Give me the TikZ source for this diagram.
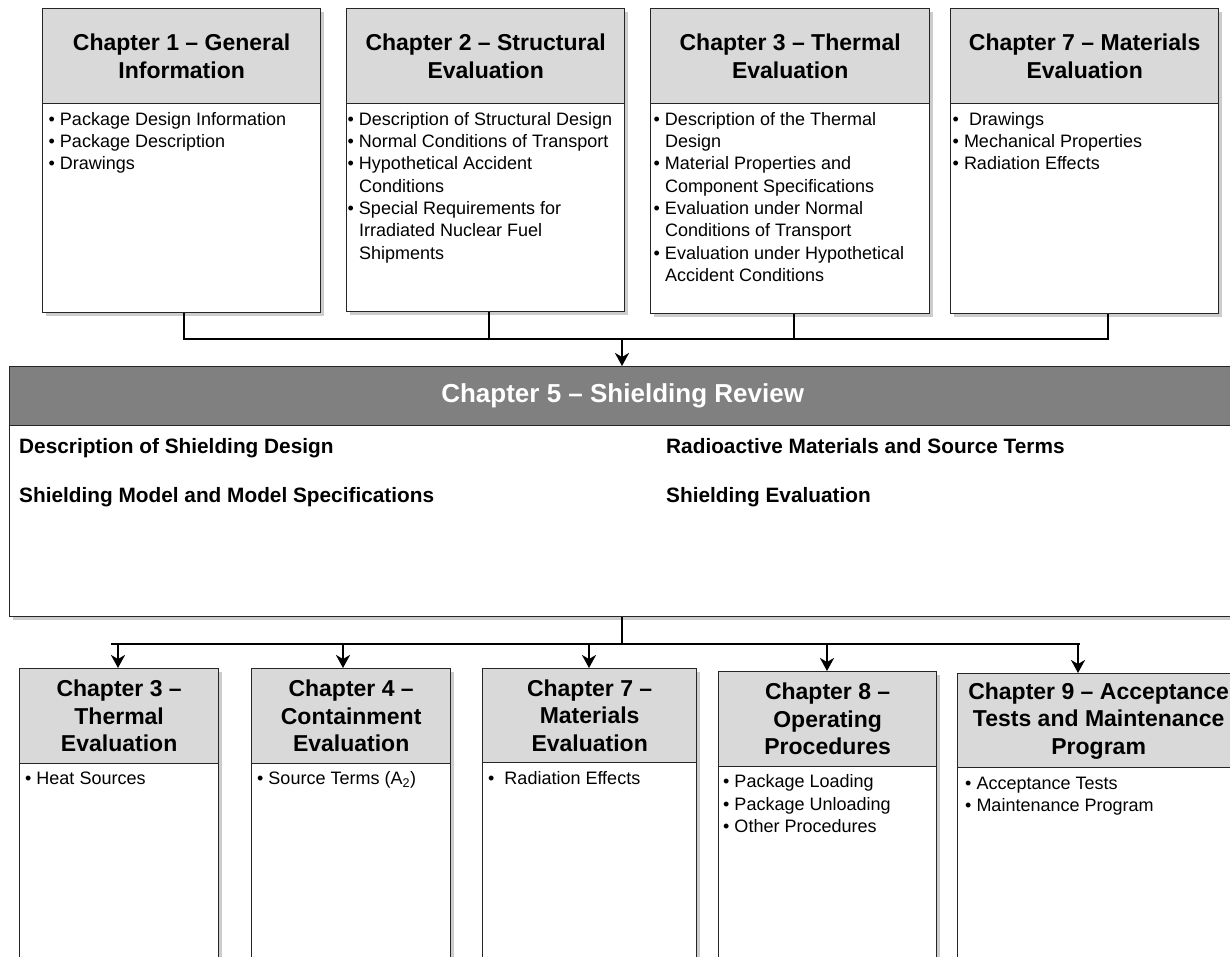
\documentclass[tikz,border=0pt]{standalone}
\usepackage{fontspec}
\setmainfont{Liberation Sans}
\usetikzlibrary{arrows.meta,shadows}
\definecolor{edge}{HTML}{262626}
\definecolor{headfill}{HTML}{D9D9D9}
\definecolor{midfill}{HTML}{808080}

% bullet item and hanging indent for wrapped lines
\newcommand{\bl}{\textbullet\ }
\newcommand{\hang}{\phantom{\textbullet\ }}

\begin{document}
\begin{tikzpicture}[x=1pt,y=-1pt,
  frame/.style={draw=edge, line width=1.3pt, fill=white, inner sep=0pt, anchor=north west,
    drop shadow={shadow xshift=3pt, shadow yshift=-3pt, opacity=0.2, fill=black}},
  head/.style={draw=edge, line width=1.3pt, fill=headfill, inner sep=0pt, anchor=north west,
    align=center, font=\fontsize{23}{27.5}\selectfont\bfseries},
  items/.style={inner sep=0pt, anchor=north west, align=left, font=\fontsize{18}{22.3}\selectfont},
  midtext/.style={inner sep=0pt, anchor=north west, font=\fontsize{20.8}{25}\selectfont\bfseries},
  conn/.style={draw=black, line width=2.4pt},
  arr/.style={conn, -{Stealth[length=13pt,width=14pt,inset=4pt]}},
]
\useasboundingbox (0,0) rectangle (1230,956);
\fill[white] (0,0) rectangle (1230,956);
\clip (0,0) rectangle (1230,956);

% ---------- upper row ----------
\node[frame, minimum width=278pt, minimum height=304pt] (t1) at (42,8) {};
\node[head, minimum width=278pt, minimum height=95pt] (t1h) at (42,8) {Chapter 1 – General\\Information};
\node[items] (t1t) at (48.5,112) {\bl Package Design Information\\ \bl Package Description\\ \bl Drawings};

\node[frame, minimum width=278pt, minimum height=303pt] (t2) at (346,8) {};
\node[head, minimum width=278pt, minimum height=95pt] (t2h) at (346,8) {Chapter 2 – Structural\\Evaluation};
\node[items] (t2t) at (347.5,112) {\bl Description of Structural Design\\ \bl Normal Conditions of Transport\\
  \bl Hypothetical Accident\\ \hang Conditions\\ \bl Special Requirements for\\ \hang Irradiated Nuclear Fuel\\ \hang Shipments};

\node[frame, minimum width=279pt, minimum height=305pt] (t3) at (650,8) {};
\node[head, minimum width=279pt, minimum height=95pt] (t3h) at (650,8) {Chapter 3 – Thermal\\Evaluation};
\node[items] (t3t) at (653.5,112) {\bl Description of the Thermal\\ \hang Design\\ \bl Material Properties and\\
  \hang Component Specifications\\ \bl Evaluation under Normal\\ \hang Conditions of Transport\\
  \bl Evaluation under Hypothetical\\ \hang Accident Conditions};

\node[frame, minimum width=268pt, minimum height=305pt] (t4) at (950,8) {};
\node[head, minimum width=268pt, minimum height=95pt] (t4h) at (950,8) {Chapter 7 – Materials\\Evaluation};
\node[items] (t4t) at (952.5,112) {\textbullet\ \hspace{5pt}Drawings\\ \bl Mechanical Properties\\ \bl Radiation Effects};

% ---------- shielding review ----------
\node[frame, minimum width=1226pt, minimum height=250pt] (mid) at (9,366) {};
\node[head, fill=midfill, text=white, font=\fontsize{26}{30}\selectfont\bfseries,
  minimum width=1226pt, minimum height=59pt] (midh) at (9,366) {Chapter 5 – Shielding Review};
\node[midtext] (m1) at (19,438.5) {Description of Shielding Design};
\node[midtext] (m2) at (19,487.5) {Shielding Model and Model Specifications};
\node[midtext] (m3) at (666,438.5) {Radioactive Materials and Source Terms};
\node[midtext] (m4) at (666,487.5) {Shielding Evaluation};

% ---------- lower row ----------
\node[frame, minimum width=199pt, minimum height=330pt] (ba) at (19,668) {};
\node[head, minimum width=199pt, minimum height=95pt] (bah) at (19,668) {Chapter 3 –\\Thermal\\Evaluation};
\node[items] (bat) at (25,771.5) {\bl Heat Sources};

\node[frame, minimum width=199pt, minimum height=330pt] (bb) at (251,668) {};
\node[head, minimum width=199pt, minimum height=95pt] (bbh) at (251,668) {Chapter 4 –\\Containment\\Evaluation};
\node[items] (bbt) at (257,771.5) {\bl Source Terms (A\textsubscript{2})};

\node[frame, minimum width=214pt, minimum height=330pt] (bc) at (482,668) {};
\node[head, minimum width=214pt, minimum height=94pt] (bch) at (482,668) {Chapter 7 –\\Materials\\Evaluation};
\node[items] (bct) at (488,771.5) {\textbullet\ \hspace{5pt}Radiation Effects};

\node[frame, minimum width=218pt, minimum height=330pt] (bd) at (718,671) {};
\node[head, minimum width=218pt, minimum height=95pt] (bdh) at (718,671) {Chapter 8 –\\Operating\\Procedures};
\node[items] (bdt) at (723,774.5) {\bl Package Loading\\ \bl Package Unloading\\ \bl Other Procedures};

\node[frame, minimum width=282pt, minimum height=330pt] (be) at (957,673) {};
\node[head, minimum width=282pt, minimum height=94pt] (beh) at (957,673) {Chapter 9 – Acceptance\\Tests and Maintenance\\Program};
\node[items] (bet) at (965,776.5) {\bl Acceptance Tests\\ \bl Maintenance Program};

% ---------- connectors into chapter 5 ----------
\coordinate (u1) at (184,339);
\coordinate (u2) at (489,339);
\coordinate (u3) at (794,339);
\coordinate (u4) at (1108,339);
\coordinate (um) at (622,339);
\draw[conn] (u1 |- t1.south) -- (u1) -- (u4) -- (u4 |- t4.south);
\draw[conn] (u2 |- t2.south) -- (u2);
\draw[conn] (u3 |- t3.south) -- (u3);
\draw[arr] (um) -- (um |- mid.north);

% ---------- connectors out of chapter 5 ----------
\coordinate (dm) at (622,644);
\coordinate (dl) at (111,644);
\coordinate (dr) at (1080,644);
\coordinate (d1) at (118,644);
\coordinate (d2) at (343,644);
\coordinate (d3) at (589,644);
\coordinate (d4) at (827,644);
\coordinate (d5) at (1078,644);
\draw[conn] (dm |- mid.south) -- (dm);
\draw[conn] (dl) -- (dr);
\draw[arr] (d1) -- (d1 |- ba.north);
\draw[arr] (d2) -- (d2 |- bb.north);
\draw[arr] (d3) -- (d3 |- bc.north);
\draw[arr] (d4) -- (d4 |- bd.north);
\draw[arr] (d5) -- (d5 |- be.north);
\end{tikzpicture}
\end{document}
